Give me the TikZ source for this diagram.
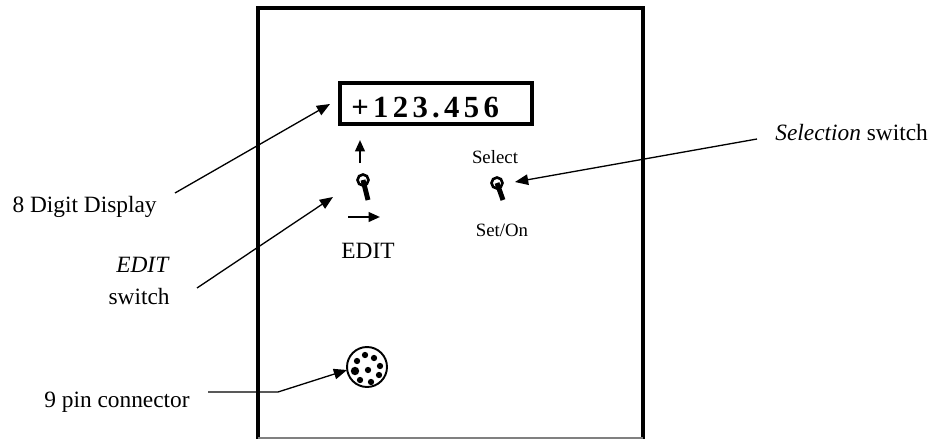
\documentclass[tikz,border=0pt]{standalone}
\usepackage{fontspec}
\setmainfont{Liberation Serif}
\newfontfamily\dispfont[LetterSpace=14]{Liberation Serif}
\usetikzlibrary{arrows.meta, positioning}
\tikzset{
    lbl/.style={font=\fontsize{13.3}{18}\selectfont, inner sep=0pt},
    small/.style={font=\fontsize{10.7}{13}\selectfont, inner sep=0pt},
    pointer/.style={line width=0.75pt, -{Triangle[length=7.5pt, width=6pt]}},
    knob/.style={line width=1.5pt},
    lever/.style={line width=2.8pt},
    dirarrow/.style={line width=1.2pt, -{Triangle[length=6.5pt, width=5.5pt]}},
}

\begin{document}
\begin{tikzpicture}[x=0.02cm, y=-0.02cm]
    \useasboundingbox (0,0) rectangle (940,439);

    % Front panel
    \draw[line width=2pt] (258,439) -- (258,8) -- (643,8) -- (643,439);
    \draw[gray, line width=0.6pt] (258,438) -- (643,438);

    % Display
    \node[draw, line width=1.8pt, minimum width=3.84cm, minimum height=0.82cm] (disp) at (436,103.5) {};
    \node[anchor=base west, inner sep=0pt, font=\dispfont\bfseries\fontsize{17.5}{20}\selectfont] (digits) at (351,118) {+123.456};

    % EDIT switch
    \coordinate (editsw) at (363,180);
    \draw[knob] (editsw) circle (0.11cm);
    \draw[lever] (editsw) -- ++(5,20);
    \draw[dirarrow] ([shift={(-3,-17)}]editsw) -- ++(0,-23);
    \draw[dirarrow] ([shift={(-15,37)}]editsw) -- ++(32,0);
    \node[lbl] (edit) at (368,251) {EDIT};

    % Selection switch
    \coordinate (selsw) at (497,183);
    \draw[knob] (selsw) circle (0.11cm);
    \draw[lever] (selsw) -- ++(6,17);
    \node[small] (select) at (495,157) {Select};
    \node[small] (seton) at (502,230) {Set/On};

    % 9 pin connector
    \node[circle, draw, line width=1.1pt, minimum size=0.8cm, inner sep=0pt] (conn) at (367,367) {};
    \foreach \dx/\dy/\r in {-10/-6/1.8, -2/-12/1.8, 7/-9/1.8, 13/-1/1.8, 1/3/1.8, -12/4/2.4, 12/8/1.8, -7/13/1.8, 4/15/1.8}
        \fill ([shift={(\dx,\dy)}]conn.center) circle (\r pt);

    % Labels
    \node[lbl, anchor=east] (digitlbl) at (157,207) {8 Digit Display};
    \node[lbl, anchor=east, align=right] (editlbl) at (170,281) {\textit{EDIT}\\switch};
    \node[lbl, anchor=west] (sellbl) at (775,133) {\textit{Selection} switch};
    \node[lbl, anchor=east] (pinlbl) at (190,402) {9 pin connector};

    % Pointers
    \coordinate (digitend) at (175,193);
    \coordinate (disptip) at (330,104);
    \draw[pointer] (digitend) -- (disptip);

    \coordinate (editend) at (197,288);
    \coordinate (edittip) at (333,197);
    \draw[pointer] (editend) -- (edittip);

    \coordinate (selend) at (757,139);
    \coordinate (seltip) at (515,182);
    \draw[pointer] (selend) -- (seltip);

    \coordinate (pinend) at (208,392);
    \coordinate (pinbend) at (278,392);
    \coordinate (pintip) at (347,370);
    \draw[pointer] (pinend) -- (pinbend) -- (pintip);
\end{tikzpicture}
\end{document}
